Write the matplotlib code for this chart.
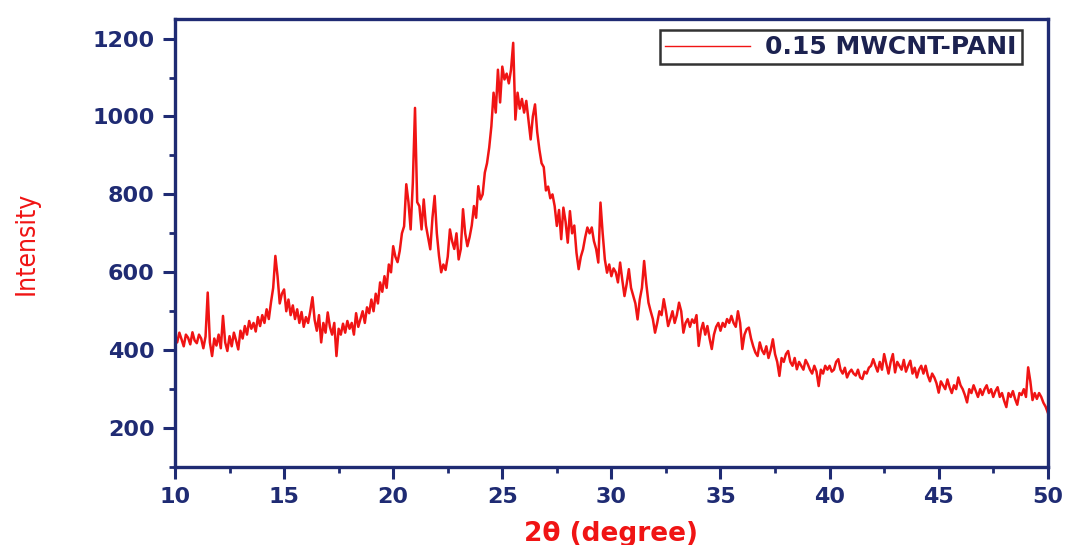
import numpy as np
import matplotlib

matplotlib.use("Agg")
import matplotlib.pyplot as plt

# XRD pattern of 0.15 MWCNT-PANI at 0.1 degree steps
two_theta_start = 10.0
two_theta_step = 0.1

intensity = [
    437, 420, 445, 428, 410, 440, 432, 415, 446, 425,  # 10
    418, 440, 430, 405, 435, 548, 420, 385, 430, 412,  # 11
    440, 405, 488, 420, 398, 436, 410, 445, 425, 402,  # 12
    450, 430, 462, 440, 475, 455, 470, 448, 485, 462,  # 13
    490, 470, 505, 480, 523, 560, 642, 590, 520, 545,  # 14
    556, 500, 530, 490, 515, 480, 505, 470, 498, 460,  # 15
    485, 470, 500, 536, 478, 450, 490, 420, 470, 445,  # 16
    497, 460, 440, 470, 385, 455, 440, 468, 445, 475,  # 17
    455, 470, 440, 495, 460, 480, 500, 470, 510, 495,  # 18
    530, 500, 545, 520, 574, 550, 590, 560, 620, 600,  # 19
    667, 640, 626, 655, 700, 718, 826, 780, 710, 830,  # 20
    1022, 780, 770, 710, 787, 720, 690, 659, 740, 796,  # 21
    700, 642, 600, 620, 606, 640, 710, 680, 660, 700,  # 22
    633, 660, 762, 700, 667, 690, 720, 770, 740, 821,  # 23
    787, 800, 856, 880, 920, 975, 1061, 1010, 1120, 1036,  # 24
    1128, 1095, 1110, 1085, 1120, 1189, 992, 1061, 1020, 1045,  # 25
    1010, 1040, 990, 941, 1000, 1031, 960, 915, 880, 870,  # 26
    810, 820, 790, 800, 770, 719, 760, 685, 766, 730,  # 27
    676, 757, 700, 720, 650, 608, 640, 659, 690, 715,  # 28
    700, 715, 680, 660, 625, 779, 700, 633, 599, 620,  # 29
    590, 610, 600, 574, 625, 580, 539, 570, 608, 560,  # 30
    540, 520, 479, 530, 560, 629, 570, 522, 500, 480,  # 31
    445, 470, 500, 490, 531, 500, 462, 480, 500, 470,  # 32
    490, 522, 500, 445, 470, 480, 460, 479, 470, 490,  # 33
    411, 450, 470, 440, 462, 430, 403, 440, 460, 470,  # 34
    450, 470, 460, 480, 470, 488, 470, 460, 500, 470,  # 35
    403, 440, 454, 458, 430, 410, 394, 385, 420, 400,  # 36
    390, 410, 380, 400, 428, 390, 370, 334, 380, 370,  # 37
    390, 398, 370, 360, 380, 351, 370, 360, 350, 375,  # 38
    364, 350, 340, 360, 345, 308, 350, 340, 360, 350,  # 39
    360, 345, 350, 370, 377, 350, 340, 355, 330, 343,  # 40
    350, 340, 335, 350, 330, 326, 345, 340, 355, 360,  # 41
    377, 360, 345, 370, 350, 390, 365, 340, 370, 390,  # 42
    343, 370, 360, 350, 375, 345, 360, 373, 340, 355,  # 43
    330, 350, 360, 340, 360, 335, 320, 340, 330, 315,  # 44
    291, 320, 310, 300, 325, 305, 290, 310, 300, 330,  # 45
    310, 300, 285, 266, 300, 290, 310, 295, 280, 300,  # 46
    285, 300, 310, 290, 300, 280, 295, 305, 280, 290,  # 47
    270, 254, 290, 280, 295, 275, 260, 290, 285, 300,  # 48
    280, 356, 320, 272, 290, 275, 290, 280, 265, 255,  # 49
    240,  # 50
]
two_theta = two_theta_start + two_theta_step * np.arange(len(intensity))

series_label = "0.15 MWCNT-PANI"
x_ticks = [10, 15, 20, 25, 30, 35, 40, 45, 50]
y_ticks = [200, 400, 600, 800, 1000, 1200]

navy = "#1f2b73"
red = "#f01414"

fig = plt.figure(figsize=(10.67, 5.45), dpi=100)
ax = fig.add_axes([0.164, 0.143, 0.818, 0.822])

ax.plot(two_theta, intensity, color=red, linewidth=1.8, label=series_label)

ax.set_xlim(10, 50)
ax.set_ylim(100, 1250)
ax.set_xticks(x_ticks)
ax.set_yticks(y_ticks)
ax.set_xticks(np.arange(12.5, 50, 5), minor=True)
ax.set_yticks(np.arange(100, 1250, 200), minor=True)

for spine in ax.spines.values():
    spine.set_color(navy)
    spine.set_linewidth(2.4)

ax.tick_params(which="major", direction="out", length=8.5, width=2.2,
               color=navy, labelcolor=navy, labelsize=16, pad=6)
ax.tick_params(which="minor", direction="out", length=4, width=2.0, color=navy)
for lbl in ax.get_xticklabels() + ax.get_yticklabels():
    lbl.set_fontweight("bold")

ax.set_xlabel("2θ (degree)", color=red, fontsize=19, fontweight="bold", labelpad=10)
ax.set_ylabel("Intensity", color=red, fontsize=19, fontstretch="condensed",
              labelpad=38)

leg = ax.legend(loc="upper right", bbox_to_anchor=(0.970, 0.975),
                fontsize=18, frameon=True, fancybox=False,
                handlelength=3.4, borderpad=0.2, handletextpad=0.6,
                borderaxespad=0.0)
leg.get_frame().set_edgecolor("black")
leg.get_frame().set_linewidth(1.8)
for line in leg.get_lines():
    line.set_linewidth(1.0)
for txt in leg.get_texts():
    txt.set_color("#1c2250")
    txt.set_fontweight("bold")

fig.savefig("out.png", dpi=100)
